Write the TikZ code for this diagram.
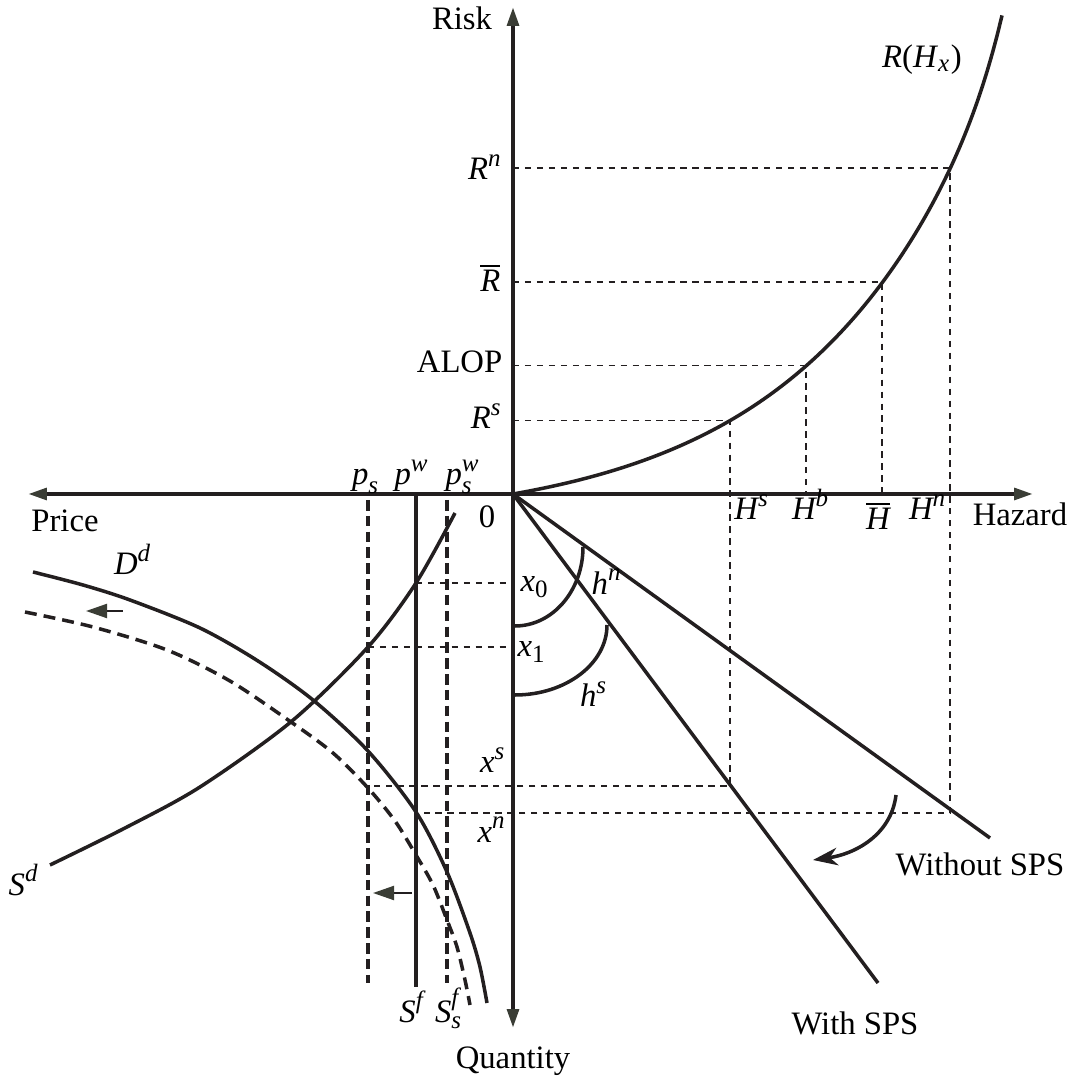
\documentclass[tikz,border=0pt]{standalone}
\usepackage{amsmath}
\usepackage{fontspec}
\setmainfont{Liberation Serif}
\usetikzlibrary{arrows.meta}
\DeclareMathSizes{9.3}{9.3}{7.1}{5.5}
\definecolor{ink}{HTML}{231F20}
\definecolor{tipgray}{HTML}{3A3D35}
\newcommand{\mi}[1]{\textit{#1}}
\tikzset{
    axistip/.tip={Triangle[length=5.4pt,width=3.3pt,color=tipgray]},
    axisline/.style={line width=1.15pt, draw=ink, axistip-axistip},
    curve/.style={line width=1pt, draw=ink},
    guide/.style={line width=0.45pt, draw=ink, dash pattern=on 1.8pt off 1.6pt},
    dashcurve/.style={curve, dash pattern=on 3.4pt off 2pt},
    dashbar/.style={line width=1.1pt, draw=ink, dash pattern=on 3pt off 1.5pt},
    moveleft/.style={line width=0.6pt, draw=ink, -{Triangle[length=6pt,width=4pt,color=tipgray]}},
    lab/.style={inner sep=0pt, anchor=base}
}

\begin{document}
\begin{tikzpicture}[x=0.01cm, y=0.01cm, font=\fontsize{9.3}{11}\selectfont]
    \useasboundingbox (-513,-589) rectangle (562,494);
    \coordinate (O) at (0,0);
    % points on R(H_x)
    \coordinate (rs) at (217,73.5);
    \coordinate (rb) at (293,128.4);
    \coordinate (rbar) at (369,211.7);
    \coordinate (rn) at (437,326);
    % guide lines
    \draw[guide] (0,73.5) -- (rs) -- (217,-292) -- (-145,-292);
    \draw[guide] (0,128.4) -- (rb) -- (293,0);
    \draw[guide] (0,211.7) -- (rbar) -- (369,0);
    \draw[guide] (0,326) -- (rn) -- (437,-319) -- (-97,-319);
    \draw[guide] (-97,-89) -- (0,-89);
    \draw[guide] (-145,-153) -- (0,-153);
    % axes
    \draw[axisline] (-485,0) -- (520,0);
    \draw[axisline] (0,-534) -- (0,487);
    % risk curve
    \draw[curve] plot[domain=0:489, samples=100, smooth]
        (\x,{32*(exp(0.0055*\x)-1)+41*(\x/489)^20});
    % SPS lines
    \draw[curve] (O) -- (477,-344) coordinate (wo);
    \draw[curve] (O) -- (365,-489) coordinate (wi);
    \draw[curve] (2,-132) .. controls (39.6,-132) and (70,-96.6) .. (70,-53);
    \draw[curve] (2,-201) .. controls (52.8,-201) and (94,-169.7) .. (94,-131);
    \draw[curve, -{Stealth[length=7pt,width=5pt,inset=2.2pt]}] (383,-301) to[out=-97,in=8] (300,-366);
    % market quadrant
    \draw[dashbar] (-145,-6) -- (-145,-489);
    \draw[curve] (-97,0) -- (-97,-493);
    \draw[dashbar] (-66,-6) -- (-66,-489);
    \draw[curve] plot[smooth, tension=0.5] coordinates
        {(-463,-371) (-388,-334) (-313,-293) (-221,-227) (-145,-153) (-97,-89) (-58,-19)};
    \draw[curve] plot[smooth, tension=0.5] coordinates
        {(-480,-78) (-430,-91) (-383,-106) (-313,-134) (-255,-167) (-200,-206) (-145,-257)
         (-97,-318) (-66,-378) (-43,-439) (-33,-473) (-26,-509)};
    \draw[dashcurve] plot[smooth, tension=0.5] coordinates
        {(-488,-118) (-420,-133) (-346,-156) (-283,-187) (-222,-228) (-180,-259) (-145,-294)
         (-118,-327) (-97,-361) (-80,-391) (-66,-426) (-56,-453) (-48,-486) (-43,-511)};
    \draw[moveleft] (-390,-117) -- (-427,-117);
    \draw[moveleft] (-101,-399) -- (-140,-399);
    % labels
    \node[lab] (risk) at (-51,464) {Risk};
    \node[lab] (price) at (-448,-38) {Price};
    \node[lab] (zero) at (-26,-34) {0};
    \node[lab] (hazard) at (507,-32) {Hazard};
    \node[lab] (quantity) at (0,-574) {Quantity};
    \node[lab] (rhx) at (409,426) {\mi{R}(\mi{H}$_{\mi{x}}$)};
    \node[inner sep=0pt, anchor=base east] (lrn) at (-10,314) {$\mi{R}^{\mi{n}}$};
    \node[inner sep=0pt, anchor=base east] (lrbar) at (-12,202) {$\overline{\mi{R}}$};
    \node[inner sep=0pt, anchor=base east] (lalop) at (-10,121) {ALOP};
    \node[inner sep=0pt, anchor=base east] (lrs) at (-10,65) {$\mi{R}^{\mi{s}}$};
    \node[lab] (lhs) at (239,-26) {$\mi{H}^{\mi{s}}$};
    \node[lab] (lhb) at (298,-26) {$\mi{H}^{\mi{b}}$};
    \node[lab] (lhbar) at (365,-36) {$\overline{\mi{H}}$};
    \node[lab] (lhn) at (415,-26) {$\mi{H}^{\mi{n}}$};
    \node[lab] (lps) at (-147,9) {$\mi{p}_{\mi{s}}$};
    \node[lab] (lpw) at (-101,9) {$\mi{p}^{\mi{w}}$};
    \node[lab] (lpsw) at (-50,9) {$\mi{p}^{\mi{w}}_{\mi{s}}$};
    \node[lab] (lx0) at (22,-98) {$\mi{x}_{\textup{0}}$};
    \node[lab] (lx1) at (19,-163) {$\mi{x}_{\textup{1}}$};
    \node[lab] (lhn2) at (94,-101) {$\mi{h}^{\mi{n}}$};
    \node[lab] (lhs2) at (81,-213) {$\mi{h}^{\mi{s}}$};
    \node[lab] (lxs) at (-20,-279) {$\mi{x}^{\mi{s}}$};
    \node[lab] (lxn) at (-21,-348) {$\mi{x}^{\mi{n}}$};
    \node[lab] (ldd) at (-380,-81) {$\mi{D}^{\mi{d}}$};
    \node[lab] (lsd) at (-489,-401) {$\mi{S}^{\mi{d}}$};
    \node[lab] (lsf) at (-101,-528) {$\mi{S}^{\mi{f}}$};
    \node[lab] (lsfs) at (-64,-528) {$\mi{S}^{\mi{f}}_{\mi{s}}$};
    \node[lab] (lwo) at (467,-381) {Without SPS};
    \node[lab] (lwi) at (342,-540) {With SPS};
\end{tikzpicture}
\end{document}
